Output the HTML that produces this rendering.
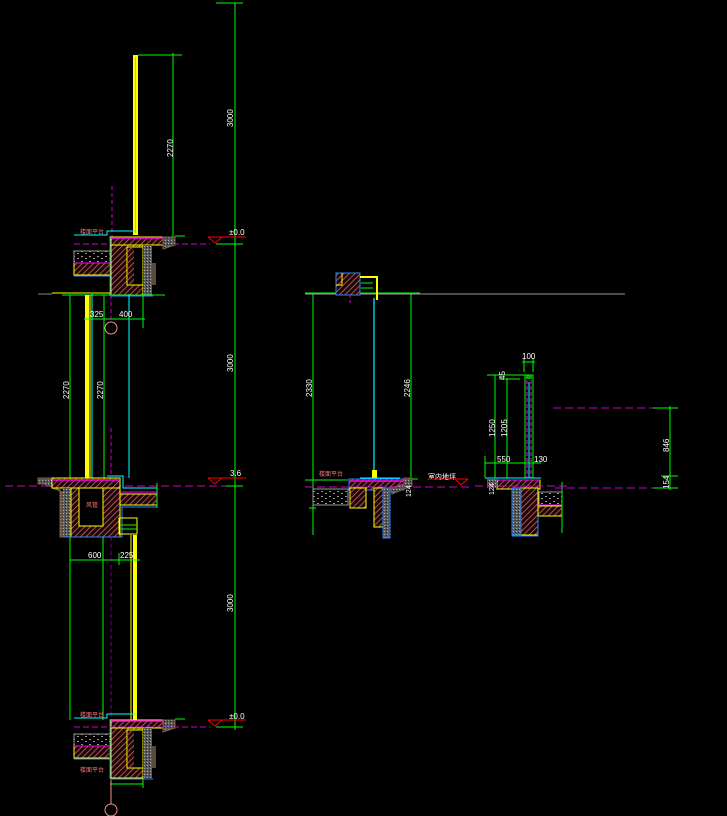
<!DOCTYPE html>
<html><head><meta charset="utf-8"><style>
html,body{margin:0;padding:0;background:#000;}
svg{display:block}
text{font-family:"Liberation Sans","Noto Sans CJK SC",sans-serif;fill:#fff;font-size:8px}
</style></head><body>
<svg width="727" height="816" viewBox="0 0 727 816" xmlns="http://www.w3.org/2000/svg">
<defs>
<pattern id="h" width="4" height="4" patternUnits="userSpaceOnUse" patternTransform="rotate(45)">
<rect width="4" height="4" fill="#1e0606"/><line x1="0" y1="0" x2="0" y2="4" stroke="#e07272" stroke-width="1.4"/></pattern>
<pattern id="s" width="3" height="3" patternUnits="userSpaceOnUse">
<rect width="3" height="3" fill="#5a5a5a"/><rect x="0" y="0" width="1" height="1" fill="#aaa"/><rect x="2" y="1" width="1" height="1" fill="#222"/></pattern>
<pattern id="c" width="8" height="5" patternUnits="userSpaceOnUse">
<rect width="8" height="5" fill="#000"/><rect x="1" y="1" width="2" height="1" fill="#999"/><rect x="5" y="3" width="2" height="1" fill="#999"/></pattern>
<g id="slab">
 <polyline points="74,235 107,235 107,231 135,231" fill="none" stroke="#0ff" stroke-width="1"/>
 <rect x="74" y="251" width="38" height="12" fill="url(#c)" stroke="#999" stroke-width="1"/>
 <rect x="74" y="263" width="38" height="12" fill="url(#h)" stroke="#ff0" stroke-width="1"/>
 <line x1="74" y1="276" x2="112" y2="276" stroke="#28f" stroke-width="1"/>
 <line x1="74" y1="263" x2="112" y2="263" stroke="#f0f" stroke-width="1"/>
 <rect x="111" y="237" width="52" height="8" fill="url(#h)" stroke="#ff0" stroke-width="1"/>
 <line x1="111" y1="238" x2="163" y2="238" stroke="#f0f" stroke-width="1.5"/>
 <rect x="111" y="245" width="32" height="50" fill="url(#h)" stroke="#ff0" stroke-width="1"/>
 <rect x="127" y="247" width="16" height="38" fill="#000" stroke="#ff0" stroke-width="1"/>
 <rect x="128" y="248" width="6" height="36" fill="url(#h)"/>
 <rect x="143" y="245" width="9" height="50" fill="url(#s)"/>
 <polygon points="163,237 175,237 175,245 163,249" fill="url(#s)" stroke="#7a5a40" stroke-width="1"/>
 <rect x="152" y="263" width="4" height="22" fill="#5a4a3a"/>
 <line x1="110" y1="236" x2="110" y2="296" stroke="#28f" stroke-width="1"/>
 <line x1="110" y1="296" x2="153" y2="296" stroke="#28f" stroke-width="1"/>
 <text x="80" y="234" style="fill:#f77;font-size:6px">楼面平台</text>
</g>
</defs>

<line x1="235" y1="3" x2="235" y2="730" stroke="#0f0" stroke-width="1"/>
<line x1="216" y1="3" x2="243" y2="3" stroke="#0f0" stroke-width="1"/>
<text transform="translate(233,127) rotate(-90)">3000</text>
<text transform="translate(233,372) rotate(-90)">3000</text>
<text transform="translate(233,612) rotate(-90)">3000</text>

<rect x="133" y="55" width="5" height="180" fill="#ff0"/>
<line x1="135.5" y1="57" x2="135.5" y2="233" stroke="#0ff" stroke-width="1"/>
<line x1="138" y1="55" x2="182" y2="55" stroke="#0f0"/>
<line x1="173" y1="53" x2="173" y2="237" stroke="#0f0"/>
<text transform="translate(173,157) rotate(-90)">2270</text>
<line x1="74" y1="244" x2="210" y2="244" stroke="#c0c" stroke-dasharray="6,3"/>
<line x1="112" y1="186" x2="112" y2="250" stroke="#c0c" stroke-dasharray="4,3"/>

<use href="#slab"/>

<line x1="208" y1="237" x2="246" y2="237" stroke="#f00"/>
<polyline points="208,237 215,243 222,237" fill="none" stroke="#f00"/>
<line x1="216" y1="244" x2="243" y2="244" stroke="#0f0"/>
<line x1="175" y1="236" x2="185" y2="236" stroke="#0f0"/>
<text x="229" y="235" style="font-size:8px">±0.0</text>

<line x1="52" y1="293" x2="110" y2="293" stroke="#ff0"/>
<line x1="62" y1="295" x2="165" y2="295" stroke="#0f0"/>
<line x1="38" y1="294" x2="52" y2="294" stroke="#888"/>

<line x1="70" y1="295" x2="70" y2="478" stroke="#0f0"/>
<line x1="104" y1="295" x2="104" y2="478" stroke="#0f0"/>
<rect x="85" y="295" width="4" height="183" fill="#ff0"/>
<line x1="90" y1="295" x2="90" y2="478" stroke="#ff0"/>
<line x1="92" y1="294" x2="92" y2="478" stroke="#0ff"/>
<line x1="129" y1="294" x2="129" y2="478" stroke="#0ff"/>
<text transform="translate(69,399) rotate(-90)">2270</text>
<text transform="translate(103,399) rotate(-90)">2270</text>
<line x1="84" y1="319" x2="145" y2="319" stroke="#0f0"/>
<line x1="143" y1="295" x2="143" y2="328" stroke="#0f0"/>
<line x1="111" y1="295" x2="111" y2="322" stroke="#c0c" stroke-dasharray="4,3"/>
<text x="90" y="317">325</text>
<text x="119" y="317">400</text>
<circle cx="111" cy="328" r="6" fill="none" stroke="#f88"/>
<line x1="111" y1="428" x2="111" y2="478" stroke="#c0c" stroke-dasharray="4,3"/>

<line x1="5" y1="486" x2="235" y2="486" stroke="#c0c" stroke-dasharray="8,4"/>
<polygon points="38,478 52,478 52,488 63,492 63,537 60,537 60,490 44,484 38,484" fill="url(#s)" stroke="#7a5a40"/>
<rect x="52" y="478" width="68" height="10" fill="url(#h)" stroke="#ff0"/>
<line x1="52" y1="480" x2="120" y2="480" stroke="#f0f" stroke-width="1.5"/>
<rect x="63" y="488" width="9" height="49" fill="url(#s)"/>
<rect x="71" y="488" width="49" height="49" fill="url(#h)" stroke="#ff0"/>
<rect x="79" y="488" width="24" height="38" fill="#000" stroke="#ff0"/>
<text x="86" y="507" style="fill:#f77;font-size:6px">风管</text>
<rect x="120" y="494" width="37" height="11" fill="url(#h)" stroke="#ff0"/>
<line x1="120" y1="492" x2="157" y2="492" stroke="#f0f"/>
<line x1="120" y1="507" x2="157" y2="507" stroke="#28f"/>
<polyline points="107,476 123,476 123,488 157,488" fill="none" stroke="#0ff"/>
<line x1="157" y1="483" x2="157" y2="508" stroke="#0f0"/>
<polyline points="63,537 122,537 122,507" fill="none" stroke="#28f"/>
<line x1="208" y1="478" x2="246" y2="478" stroke="#f00"/>
<polyline points="208,478 215,484 222,478" fill="none" stroke="#f00"/>
<line x1="226" y1="486" x2="243" y2="486" stroke="#0f0"/>
<text x="230" y="476" style="font-size:8px">3.6</text>
<rect x="119" y="518" width="18" height="16" fill="none" stroke="#ff0"/>
<line x1="121" y1="525" x2="137" y2="525" stroke="#0f0"/>
<line x1="121" y1="529" x2="137" y2="529" stroke="#0f0"/>

<line x1="70" y1="537" x2="70" y2="720" stroke="#0f0"/>
<line x1="103" y1="537" x2="103" y2="720" stroke="#0f0"/>
<rect x="133" y="535" width="4" height="185" fill="#ff0"/>
<line x1="131" y1="535" x2="131" y2="720" stroke="#ff0"/>
<line x1="70" y1="560" x2="140" y2="560" stroke="#0f0"/>
<line x1="119" y1="553" x2="119" y2="565" stroke="#0f0"/>
<text x="88" y="558">600</text>
<text x="120" y="558">225</text>
<line x1="111" y1="537" x2="111" y2="720" stroke="#c0c" stroke-dasharray="4,3" opacity="0.6"/>

<g transform="translate(0,483)"><use href="#slab"/></g>
<line x1="74" y1="727" x2="210" y2="727" stroke="#c0c" stroke-dasharray="6,3"/>
<line x1="208" y1="720" x2="246" y2="720" stroke="#f00"/>
<polyline points="208,720 215,726 222,720" fill="none" stroke="#f00"/>
<line x1="216" y1="727" x2="243" y2="727" stroke="#0f0"/>
<line x1="175" y1="719" x2="185" y2="719" stroke="#0f0"/>
<text x="229" y="719" style="font-size:8px">±0.0</text>
<line x1="110" y1="784" x2="143" y2="784" stroke="#0f0"/>
<line x1="143" y1="779" x2="143" y2="788" stroke="#0f0"/>
<text x="80" y="772" style="fill:#f77;font-size:6px">楼面平台</text>
<line x1="111" y1="780" x2="111" y2="804" stroke="#f88"/>
<circle cx="111" cy="810" r="6" fill="none" stroke="#f88"/>

<line x1="305" y1="294" x2="625" y2="294" stroke="#999"/>
<line x1="305" y1="293" x2="420" y2="293" stroke="#0f0"/>
<rect x="336" y="273" width="24" height="22" fill="url(#h)" stroke="#28f"/>
<polyline points="342,273 342,285 336,285" fill="none" stroke="#ff0"/>
<polyline points="360,277 377,277 377,300" fill="none" stroke="#ff0" stroke-width="2"/>
<line x1="361" y1="283" x2="373" y2="283" stroke="#0f0"/>
<line x1="361" y1="288" x2="373" y2="288" stroke="#0f0"/>
<line x1="350" y1="295" x2="350" y2="305" stroke="#c0c" stroke-dasharray="3,2"/>
<line x1="374" y1="298" x2="374" y2="478" stroke="#0ff" stroke-width="1.2"/>
<line x1="313" y1="293" x2="313" y2="535" stroke="#0f0"/>
<line x1="411" y1="294" x2="411" y2="480" stroke="#0f0"/>
<line x1="403" y1="479" x2="418" y2="479" stroke="#0f0"/>
<line x1="305" y1="480" x2="348" y2="480" stroke="#0f0"/>
<text transform="translate(312,397) rotate(-90)">2330</text>
<text transform="translate(410,397) rotate(-90)">2246</text>
<rect x="372" y="470" width="5" height="8" fill="#ff0"/>
<line x1="360" y1="478" x2="400" y2="478" stroke="#0ff"/>
<rect x="349" y="479" width="55" height="11" fill="url(#h)" stroke="#28f"/>
<line x1="349" y1="481" x2="404" y2="481" stroke="#f0f" stroke-width="1.5"/>
<rect x="350" y="488" width="16" height="20" fill="url(#h)" stroke="#ff0"/>
<rect x="374" y="488" width="9" height="39" fill="url(#h)" stroke="#ff0"/>
<rect x="383" y="488" width="7" height="50" fill="url(#s)" stroke="#28f"/>
<polygon points="390,488 404,484 404,478 412,478 412,486 392,494" fill="url(#s)" stroke="#7a5a40"/>
<rect x="313" y="489" width="35" height="16" fill="url(#c)" stroke="#999"/>
<line x1="305" y1="487" x2="470" y2="487" stroke="#c0c" stroke-dasharray="8,4"/>
<line x1="309" y1="508" x2="316" y2="508" stroke="#0f0"/>
<text x="319" y="476" style="fill:#f77;font-size:6px">楼面平台</text>
<text x="428" y="479" style="font-size:7px">室内地坪</text>
<line x1="429" y1="479" x2="468" y2="479" stroke="#f00"/>
<polyline points="455,479 461,485 468,479" fill="none" stroke="#f00"/>
<text transform="translate(411,497) rotate(-90)" style="font-size:7px">124</text>

<line x1="524" y1="358" x2="524" y2="372" stroke="#0f0"/>
<line x1="533" y1="358" x2="533" y2="372" stroke="#0f0"/>
<line x1="522" y1="362" x2="535" y2="362" stroke="#0f0"/>
<text x="522" y="359">100</text>
<rect x="525" y="375" width="8" height="103" fill="none" stroke="#0f0"/>
<line x1="527" y1="380" x2="527" y2="478" stroke="#f0f" stroke-dasharray="4,2"/>
<line x1="531" y1="380" x2="531" y2="478" stroke="#f0f" stroke-dasharray="4,2"/>
<line x1="529" y1="382" x2="529" y2="478" stroke="#0ff"/>
<rect x="526" y="375" width="6" height="4" fill="#0a0"/>
<line x1="487" y1="375" x2="530" y2="375" stroke="#0f0"/>
<line x1="499" y1="379" x2="520" y2="379" stroke="#0f0"/>
<line x1="495" y1="375" x2="495" y2="478" stroke="#0f0"/>
<line x1="507" y1="378" x2="507" y2="478" stroke="#0f0"/>
<text transform="translate(495,437) rotate(-90)">1250</text>
<text transform="translate(507,437) rotate(-90)">1205</text>
<text transform="translate(505,380) rotate(-90)">45</text>
<line x1="485" y1="463" x2="541" y2="463" stroke="#0f0"/>
<line x1="485" y1="456" x2="485" y2="478" stroke="#0f0"/>
<text x="497" y="462">550</text>
<text x="534" y="462">130</text>
<line x1="485" y1="478" x2="541" y2="478" stroke="#0ff"/>
<rect x="497" y="480" width="43" height="9" fill="url(#h)" stroke="#ff0"/>
<line x1="497" y1="480" x2="540" y2="480" stroke="#f0f"/>
<polygon points="487,479 497,479 497,488 487,488" fill="url(#s)"/>
<rect x="521" y="488" width="17" height="47" fill="url(#h)" stroke="#ff0"/>
<rect x="512" y="488" width="9" height="47" fill="url(#s)" stroke="#28f"/>
<rect x="539" y="492" width="23" height="14" fill="url(#c)" stroke="#999"/>
<rect x="538" y="506" width="24" height="10" fill="url(#h)" stroke="#ff0"/>
<line x1="538" y1="505" x2="562" y2="505" stroke="#f0f"/>
<polyline points="538,516 538,536 512,536" fill="none" stroke="#28f"/>
<line x1="562" y1="482" x2="562" y2="533" stroke="#0f0"/>
<line x1="475" y1="486" x2="570" y2="486" stroke="#c0c" stroke-dasharray="8,4"/>
<line x1="553" y1="408" x2="655" y2="408" stroke="#c0c" stroke-dasharray="8,4"/>
<line x1="555" y1="488" x2="655" y2="488" stroke="#c0c" stroke-dasharray="8,4"/>
<line x1="653" y1="408" x2="678" y2="408" stroke="#0f0"/>
<line x1="661" y1="476" x2="678" y2="476" stroke="#0f0"/>
<line x1="653" y1="488" x2="678" y2="488" stroke="#0f0"/>
<line x1="670" y1="406" x2="670" y2="490" stroke="#0f0"/>
<text transform="translate(669,452) rotate(-90)">846</text>
<text transform="translate(669,489) rotate(-90)" style="font-size:8px">154</text>
<text transform="translate(494,495) rotate(-90)" style="font-size:7px">124</text>
</svg>
</body></html>
